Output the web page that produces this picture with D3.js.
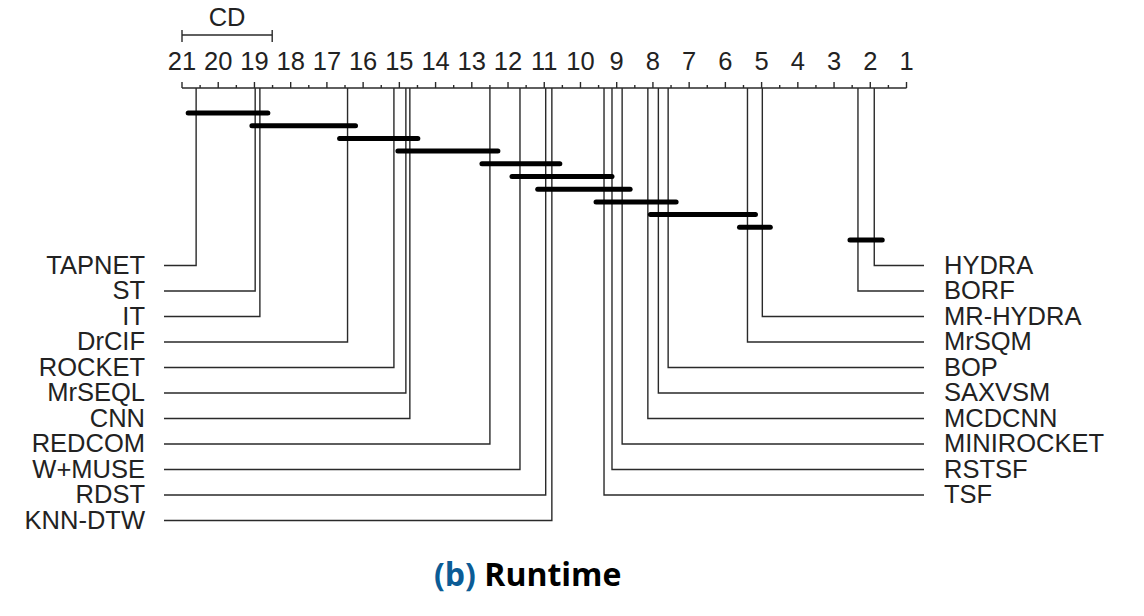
<!DOCTYPE html>
<html>
<head>
<meta charset="utf-8">
<script src="https://cdn.jsdelivr.net/npm/d3@7"></script>
<style>
  body { margin: 0; background: #fff; }
  text { font-family: "Liberation Sans", Arial, sans-serif; fill: #222; }
</style>
</head>
<body>
<svg width="1144" height="616"></svg>
<script>
// average ranks
const leftNames = ['TAPNET', 'ST', 'IT', 'DrCIF', 'ROCKET', 'MrSEQL', 'CNN', 'REDCOM', 'W+MUSE', 'RDST', 'KNN-DTW'];
const leftRanks = [20.61, 18.98, 18.85, 16.43, 15.15, 14.82, 14.71, 12.50, 11.67, 10.96, 10.79];
const rightNames = ['HYDRA', 'BORF', 'MR-HYDRA', 'MrSQM', 'BOP', 'SAXVSM', 'MCDCNN', 'MINIROCKET', 'RSTSF', 'TSF'];
const rightRanks = [1.89, 2.34, 4.98, 5.39, 7.58, 7.85, 8.14, 8.85, 9.13, 9.35];
// groups not significantly different: [worst member, best member]
const cliques = [
  ['TAPNET', 'IT'], ['IT', 'DrCIF'], ['DrCIF', 'CNN'], ['MrSEQL', 'REDCOM'],
  ['REDCOM', 'KNN-DTW'], ['W+MUSE', 'TSF'], ['RDST', 'MINIROCKET'], ['TSF', 'BOP'],
  ['SAXVSM', 'MrSQM'], ['MrSQM', 'MR-HYDRA'], ['BORF', 'HYDRA']
];
const cd = 2.49;
const tickValues = d3.range(21, 0, -1);

const svg = d3.select('svg');
const rank = {};
leftNames.forEach((n, i) => rank[n] = leftRanks[i]);
rightNames.forEach((n, i) => rank[n] = rightRanks[i]);

const x = d3.scaleLinear().domain([21, 1]).range([182, 906.5]);
const axisY = 88,
    rowY = d3.scaleLinear().domain([0, 1]).range([265.5, 291]),
    barY = d3.scaleLinear().domain([0, 1]).range([113, 125.7]);
const lineColor = '#2a2a2a';

// axis line with major and minor ticks
const ax = svg.append('g');
ax.append('line')
    .attr('x1', x(21)).attr('x2', x(1))
    .attr('y1', axisY).attr('y2', axisY)
    .attr('stroke', lineColor).attr('stroke-width', 1.4);
ax.selectAll('.major').data(tickValues).enter().append('line')
    .attr('x1', d => x(d)).attr('x2', d => x(d))
    .attr('y1', axisY - 6).attr('y2', axisY)
    .attr('stroke', lineColor).attr('stroke-width', 1.4);
ax.selectAll('.minor').data(d3.range(20.5, 1, -1)).enter().append('line')
    .attr('x1', d => x(d)).attr('x2', d => x(d))
    .attr('y1', axisY - 3).attr('y2', axisY)
    .attr('stroke', lineColor).attr('stroke-width', 1.4);
ax.selectAll('.lbl').data(tickValues).enter().append('text')
    .attr('x', d => x(d)).attr('y', 70)
    .attr('text-anchor', 'middle')
    .attr('font-size', 25.5)
    .text(d => d);

// CD bar
const cdG = svg.append('g');
cdG.append('line')
    .attr('x1', x(21)).attr('x2', x(21 - cd))
    .attr('y1', 35).attr('y2', 35)
    .attr('stroke', lineColor).attr('stroke-width', 1.4);
[21, 21 - cd].forEach(v => {
  cdG.append('line')
      .attr('x1', x(v)).attr('x2', x(v))
      .attr('y1', 30).attr('y2', 42)
      .attr('stroke', lineColor).attr('stroke-width', 1.4);
});
cdG.append('text')
    .attr('x', (x(21) + x(21 - cd)) / 2).attr('y', 26)
    .attr('text-anchor', 'middle').attr('font-size', 25.5)
    .text('CD');

// method connectors
const conn = d3.line();
const leftG = svg.append('g');
leftNames.forEach((n, i) => {
  leftG.append('path')
      .attr('d', conn([[x(leftRanks[i]), axisY], [x(leftRanks[i]), rowY(i)], [164, rowY(i)]]))
      .attr('fill', 'none').attr('stroke', lineColor).attr('stroke-width', 1.4);
  leftG.append('text')
      .attr('x', 145).attr('y', rowY(i) + 8)
      .attr('text-anchor', 'end').attr('font-size', 25.5)
      .text(n);
});
const rightG = svg.append('g');
rightNames.forEach((n, i) => {
  rightG.append('path')
      .attr('d', conn([[x(rightRanks[i]), axisY], [x(rightRanks[i]), rowY(i)], [924, rowY(i)]]))
      .attr('fill', 'none').attr('stroke', lineColor).attr('stroke-width', 1.4);
  rightG.append('text')
      .attr('x', 944).attr('y', rowY(i) + 8)
      .attr('text-anchor', 'start').attr('font-size', 25.5)
      .text(n);
});

// clique bars
const ext = 0.22;
svg.append('g').selectAll('line').data(cliques).enter().append('line')
    .attr('x1', d => x(rank[d[0]] + ext))
    .attr('x2', d => x(rank[d[1]] - ext))
    .attr('y1', (d, i) => barY(i)).attr('y2', (d, i) => barY(i))
    .attr('stroke', '#000').attr('stroke-width', 5)
    .attr('stroke-linecap', 'round');

// caption
const cap = svg.append('text')
    .attr('x', 434).attr('y', 586)
    .style('font-family', '"Open Sans", sans-serif')
    .attr('font-weight', 'bold').attr('font-size', 32);
cap.append('tspan').style('fill', '#0b5c96').text('(b)');
cap.append('tspan').style('fill', '#000').text(' Runtime');
</script>
</body>
</html>
